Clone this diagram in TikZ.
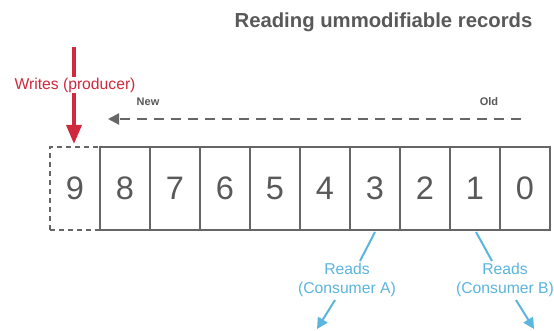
\documentclass[tikz,border=0pt]{standalone}
\usepackage{fontspec}
\setmainfont{Liberation Sans}
\usetikzlibrary{arrows.meta}
\definecolor{cellgray}{HTML}{666666}
\definecolor{txtgray}{HTML}{595959}
\definecolor{prodred}{HTML}{D0283C}
\definecolor{consblue}{HTML}{5BB5DD}
\tikzset{
  cell/.style={draw=cellgray, line width=1.6pt, minimum width=50pt, minimum height=83pt,
    inner sep=0pt, text=txtgray, font=\fontsize{32.5}{32.5}\selectfont},
  newcell/.style={cell, dashed, dash pattern=on 5pt off 4pt},
  tag/.style={text=txtgray, font=\bfseries\fontsize{11}{13}\selectfont},
  prodlabel/.style={text=prodred, fill=white, inner sep=1pt, font=\fontsize{15.7}{18}\selectfont},
  conslabel/.style={text=consblue, align=center, inner sep=1pt, font=\fontsize{15.7}{18.5}\selectfont},
  prodarrow/.style={draw=prodred, line width=3.5pt, -{Triangle[length=19pt,width=15pt]}},
  consline/.style={draw=consblue, line width=2pt},
  consarrow/.style={draw=consblue, line width=2pt, -{Triangle[length=11pt,width=11pt]}},
}
\begin{document}
\begin{tikzpicture}[x=1pt, y=-1pt]
\useasboundingbox[fill=white] (0,0) rectangle (554,331);

% title
\node[text=txtgray, font=\bfseries\fontsize{20.3}{22}\selectfont] (title) at (383.5,22.5) {Reading ummodifiable records};

% record cells, newest on the left
\node[newcell] (c9) at (75,188.5) {9};
\foreach \i/\x in {8/125,7/175,6/225,5/275,4/325,3/375,2/425,1/475,0/525}
  \node[cell] (c\i) at (\x,188.5) {\i};

% direction of age
\node[tag] (new) at (148,101.5) {New};
\node[tag] (old) at (489,101.5) {Old};
\coordinate (oldend) at (521,119);
\coordinate (newend) at (108,119);
\draw[draw=cellgray, line width=2pt, dash pattern=on 10pt off 7pt, -{Triangle[length=11pt,width=11pt]}] (oldend) -- (newend);

% producer
\coordinate (prodtop) at (74,47);
\coordinate (prodtip) at (74,144);
\draw[prodarrow] (prodtop) -- (prodtip);
\node[prodlabel] (prod) at (75,85) {Writes (producer)};

% consumers
\node[conslabel] (consA) at (347,280) {Reads\\(Consumer A)};
\node[conslabel] (consB) at (505,280) {Reads\\(Consumer B)};
\coordinate (readA) at (375,232);
\coordinate (readB) at (476,232);
\coordinate (inA) at (360,261);
\coordinate (inB) at (492,261);
\coordinate (fromA) at (335,300);
\coordinate (fromB) at (516,300);
\coordinate (outA) at (317,329);
\coordinate (outB) at (534,329);
\draw[consline] (readA) -- (inA);
\draw[consarrow] (fromA) -- (outA);
\draw[consline] (readB) -- (inB);
\draw[consarrow] (fromB) -- (outB);
\end{tikzpicture}
\end{document}
